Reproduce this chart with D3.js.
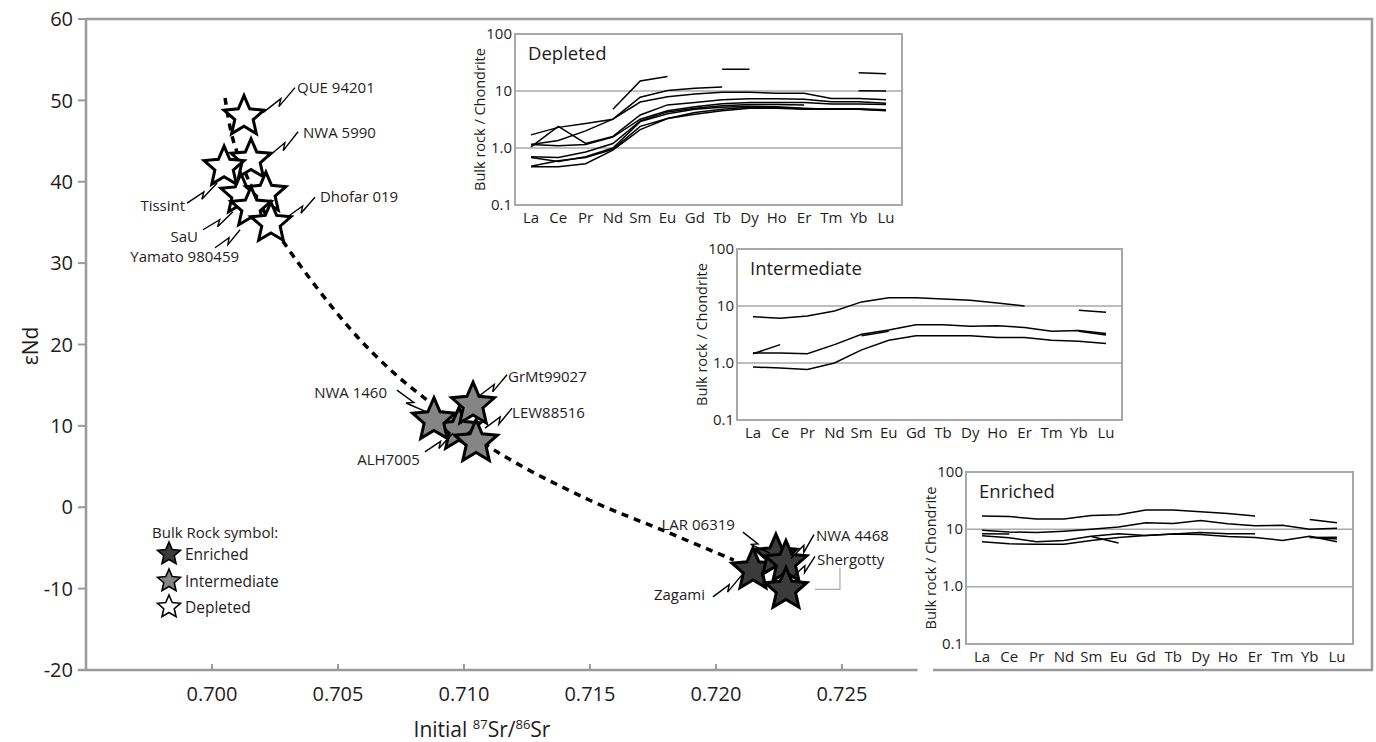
<!DOCTYPE html>
<html><head><meta charset="utf-8">
<script src="https://cdn.jsdelivr.net/npm/d3@7"></script>
<style>body{margin:0;background:#fff}svg{display:block;font-family:"Open Sans",sans-serif}</style>
</head><body><svg id="c" width="1376" height="742"></svg>
<script>
// ---------- data ----------
const yTicks = [60,50,40,30,20,10,0,-10,-20];
const xTicks = [0.700,0.705,0.710,0.715,0.720,0.725];
const xTickLabels = ["0.700","0.705","0.710","0.715","0.720","0.725"];

const depletedNames = ["QUE 94201","NWA 5990","Tissint","SaU","(unlabelled)","Yamato 980459","Dhofar 019"];
const depletedSr  = [0.70127,0.70155,0.70048,0.70115,0.70214,0.70155,0.70234];
const depletedNd  = [48.0,42.7,41.8,38.4,38.6,36.8,34.9];
const intermediateNames = ["ALH7005","NWA 1460","GrMt99027","LEW88516"];
const intermediateSr = [0.70980,0.70881,0.71036,0.71048];
const intermediateNd = [9.5,10.7,12.6,8.0];
const enrichedNames = ["Zagami","LAR 06319","NWA 4468","Shergotty"];
const enrichedSr = [0.72147,0.72238,0.72278,0.72278];
const enrichedNd = [-7.7,-6.0,-6.8,-10.1];

const mixSr = [0.70052,0.70087,0.70194,0.70306,0.70552,0.70722,0.70869,0.71119,0.71476,0.71810,0.72071];
const mixNd = [50.3,44.8,37.1,31.6,21.8,16.5,12.8,7.05,1.2,-3.1,-6.5];

const elements = ["La","Ce","Pr","Nd","Sm","Eu","Gd","Tb","Dy","Ho","Er","Tm","Yb","Lu"];
const reeTicks = [100,10,1,0.1];
const reeTickLabels = ["100","10","1.0","0.1"];
const N = null;
const depletedREE = [
  [N,N,N,4.8,15,18,N,24,24,N,N,N,21,20],
  [1.7,2.3,2.7,3.2,7.8,10.2,11.2,11.8,N,N,N,N,10.1,10.0],
  [1.05,2.4,1.2,1.6,3.8,5.7,6.3,7.0,7.3,7.3,7.2,6.5,6.5,6.1],
  [1.15,1.35,2.0,3.2,6.4,7.9,8.9,9.5,9.5,9.1,9.1,7.4,7.4,7.0],
  [1.15,1.1,1.15,1.55,3.2,4.5,5.3,6.0,6.3,6.3,6.3,5.9,5.9,5.8],
  [0.7,0.68,0.85,1.2,3.0,4.3,5.0,5.5,5.8,5.8,5.7,N,N,N],
  [0.68,0.58,0.7,1.0,2.9,4.0,4.8,5.2,5.4,5.3,5.0,4.8,4.8,4.6],
  [0.48,0.6,0.68,0.95,2.4,3.3,4.2,4.8,5.2,5.1,4.9,4.9,4.9,4.7],
  [0.47,0.47,0.53,0.92,2.1,3.3,3.9,4.5,5.0,5.0,4.8,4.8,4.8,4.5]
];
const intermediateREE = [
  [6.5,6.1,6.7,8.2,11.8,14,14,13.3,12.6,11.3,10,N,8.4,7.8],
  [1.5,1.5,1.45,2.1,3.2,3.8,4.7,4.7,4.4,4.5,4.2,3.6,3.7,3.3],
  [1.45,2.1,N,N,3.0,3.6,N,N,N,N,N,N,3.6,3.1],
  [0.85,0.82,0.77,1.0,1.7,2.5,3.0,3.0,3.0,2.8,2.8,2.5,2.4,2.2]
];
const enrichedREE = [
  [17,16.7,15.1,15.1,17.5,18,21.7,21.7,20.3,18.8,17,N,14.9,13],
  [9.6,9.0,8.8,9.3,10,11,13,12.7,14.3,12.5,11.5,11.8,10,10.4],
  [8.4,8.3,N,N,N,N,N,N,N,N,N,N,N,N],
  [7.7,7.1,6.1,6.4,7.6,8.4,7.8,8.3,8.8,8.4,8.4,N,7.3,6.8],
  [6.1,5.6,5.5,5.5,6.4,7.2,7.8,8.3,8.1,7.5,7.2,6.4,7.6,6.1],
  [N,N,N,N,7.5,5.8,N,N,N,N,N,N,7.2,7.3]
];

// ---------- layout ----------
const svg = d3.select("#c");
const GRAY = "#9a9a9a";
const INK = "#1f1c1d";
const x = d3.scaleLinear().domain([0.695,0.728]).range([86,917.5]);
const y = d3.scaleLinear().domain([-20,60]).range([670,19]);

// frame
svg.append("path").attr("d","M86,19H1372V670H933").attr("fill","none").attr("stroke",GRAY).attr("stroke-width",2.5);
// axes
svg.append("line").attr("x1",86).attr("x2",86).attr("y1",19).attr("y2",670).attr("stroke",GRAY).attr("stroke-width",2.5);
svg.append("line").attr("x1",78).attr("x2",917.5).attr("y1",670).attr("y2",670).attr("stroke",GRAY).attr("stroke-width",2.5);
svg.selectAll(".yt").data(yTicks).join("line").attr("x1",78).attr("x2",86)
  .attr("y1",d=>y(d)).attr("y2",d=>y(d)).attr("stroke",GRAY).attr("stroke-width",2);
svg.selectAll(".ytl").data(yTicks).join("text").attr("x",73).attr("y",d=>y(d)).attr("dy","0.36em")
  .attr("text-anchor","end").attr("font-size",20).attr("fill",INK).text(d=>d);
svg.selectAll(".xt").data(xTicks).join("line").attr("x1",d=>x(d)).attr("x2",d=>x(d))
  .attr("y1",670).attr("y2",664).attr("stroke",GRAY).attr("stroke-width",2);
svg.selectAll(".xtl").data(xTicks).join("text").attr("x",d=>x(d)).attr("y",694).attr("dy","0.36em")
  .attr("text-anchor","middle").attr("font-size",20).attr("fill",INK).text((d,i)=>xTickLabels[i]);
svg.append("text").attr("transform","translate(38,346) rotate(-90)").attr("text-anchor","middle")
  .attr("font-size",21).attr("fill",INK).text("εNd");
const xt = svg.append("text").attr("x",482).attr("y",737).attr("text-anchor","middle").attr("font-size",21).attr("fill",INK);
xt.append("tspan").text("Initial ");
xt.append("tspan").attr("font-size",13).attr("dy",-8).text("87");
xt.append("tspan").attr("dy",8).text("Sr/");
xt.append("tspan").attr("font-size",13).attr("dy",-8).text("86");
xt.append("tspan").attr("dy",8).text("Sr");

// mixing curve
const mix = mixSr.map((s,i)=>[s,mixNd[i]]);
svg.append("path").datum(mix).attr("d",d3.line().x(d=>x(d[0])).y(d=>y(d[1])).curve(d3.curveCatmullRom))
  .attr("fill","none").attr("stroke","#000").attr("stroke-width",3.5).attr("stroke-dasharray","7,6");

// star generator
function starPts(R){const r=R*0.46,p=[];for(let i=0;i<10;i++){p.push([i*Math.PI/5,i%2?r:R]);}return p;}
const radial = d3.lineRadial().angle(d=>d[0]).radius(d=>d[1]).curve(d3.curveLinearClosed);
function drawStars(names,sr,nd,fill,R){
  const g = svg.append("g");
  names.forEach((n,i)=>{
    g.append("path").attr("d",radial(starPts(R))).attr("transform",`translate(${x(sr[i])},${y(nd[i])})`)
     .attr("fill",fill).attr("stroke","#000").attr("stroke-width",3).attr("stroke-linejoin","miter");
  });
}
drawStars(depletedNames,depletedSr,depletedNd,"#fff",21);
drawStars(intermediateNames,intermediateSr,intermediateNd,"#858585",22.5);
drawStars(enrichedNames,enrichedSr,enrichedNd,"#3b3b3b",22);

// labels with zigzag leaders (offsets from star centre)
const labelLayout = [
  {n:"QUE 94201",s:[19,-4],e:[51,-29],t:[53,-29],a:"start"},
  {n:"NWA 5990",s:[17,-3],e:[47,-28],t:[52,-27],a:"start"},
  {n:"Tissint",s:[-37,36],e:[-7,16],t:[-39,38],a:"end"},
  {n:"SaU",s:[-38,35],e:[-8,17],t:[-43,42],a:"end"},
  {n:"Yamato 980459",s:[-36,40],e:[-11,22],t:[-12,49],a:"end"},
  {n:"Dhofar 019",s:[16,-6],e:[44,-26],t:[49,-27],a:"start"},
  {n:"NWA 1460",s:[-37,-30],e:[-7,-8],t:[-47,-28],a:"end"},
  {n:"GrMt99027",s:[5,-8],e:[34,-30],t:[35,-28],a:"start"},
  {n:"LEW88516",s:[9,-14],e:[36,-34],t:[36,-30],a:"start"},
  {n:"ALH7005",s:[-34,22],e:[-6,3],t:[-39,30],a:"end"},
  {n:"Zagami",s:[-40,27],e:[-11,5],t:[-48,25],a:"end"},
  {n:"LAR 06319",s:[-33,-24],e:[-6,-3],t:[-41,-31],a:"end"},
  {n:"NWA 4468",s:[5,-4],e:[28,-28],t:[30,-27],a:"start"},
  {n:"Shergotty",s:[6,-12],e:[29,-33],t:[31,-30],a:"start"}
];
const allNames = depletedNames.concat(intermediateNames,enrichedNames);
const allSr = depletedSr.concat(intermediateSr,enrichedSr);
const allNd = depletedNd.concat(intermediateNd,enrichedNd);
function zig(s,e){
  const dx=e[0]-s[0],dy=e[1]-s[1],L=Math.hypot(dx,dy),ux=dx/L,uy=dy/L,nx=-uy,ny=ux;
  const a=[s[0]+ux*L*0.56,s[1]+uy*L*0.56];
  const b=[s[0]+ux*L*0.40+nx*5,s[1]+uy*L*0.40+ny*5];
  return `M${s}L${a}L${b}L${e}`;
}
labelLayout.forEach(l=>{
  const i = allNames.indexOf(l.n);
  const cx=x(allSr[i]), cy=y(allNd[i]);
  svg.append("path").attr("d",zig([cx+l.s[0],cy+l.s[1]],[cx+l.e[0],cy+l.e[1]]))
    .attr("fill","none").attr("stroke","#000").attr("stroke-width",1.4);
  svg.append("text").attr("x",cx+l.t[0]).attr("y",cy+l.t[1]).attr("dy","0.36em").attr("text-anchor",l.a)
    .attr("font-size",15).attr("fill",INK).text(l.n);
});
// small gray bracket by Shergotty
{const i=allNames.indexOf("Shergotty");const cx=x(allSr[i]),cy=y(allNd[i]);
 svg.append("path").attr("d",`M${cx+29},${cy}H${cx+54}V${cy-22}`).attr("fill","none").attr("stroke","#aaa").attr("stroke-width",1.2);}

// legend
svg.append("text").attr("x",152).attr("y",533).attr("dy","0.36em").attr("font-size",15).attr("fill",INK).text("Bulk Rock symbol:");
const legendItems = [["Enriched","#3b3b3b"],["Intermediate","#858585"],["Depleted","#fff"]];
legendItems.forEach((d,i)=>{
  const cy = [554,581,607][i];
  svg.append("path").attr("d",radial(starPts(12))).attr("transform",`translate(169,${cy})`)
    .attr("fill",d[1]).attr("stroke","#000").attr("stroke-width",1.6);
  svg.append("text").attr("x",185).attr("y",cy).attr("dy","0.36em").attr("font-size",15.5).attr("fill",INK).text(d[0]);
});

// REE insets
function inset(box,title,data){
  const g = svg.append("g");
  const ex = d3.scalePoint().domain(elements).range([box.x+16,box.x+box.w-16]);
  const ey = d3.scaleLog().domain([0.1,100]).range([box.y+box.h,box.y]);
  g.append("rect").attr("x",box.x).attr("y",box.y).attr("width",box.w).attr("height",box.h)
    .attr("fill","#fff").attr("stroke","#a8a8a8").attr("stroke-width",2);
  g.selectAll(".gl").data([10,1]).join("line").attr("x1",box.x).attr("x2",box.x+box.w)
    .attr("y1",d=>ey(d)).attr("y2",d=>ey(d)).attr("stroke","#a8a8a8").attr("stroke-width",1.5);
  g.selectAll(".tl").data(reeTicks).join("text").attr("x",box.x-3).attr("y",d=>ey(d)).attr("dy","0.3em")
    .attr("text-anchor","end").attr("font-size",15).attr("fill",INK).text((d,i)=>reeTickLabels[i]);
  g.selectAll(".el").data(elements).join("text").attr("x",d=>ex(d)).attr("y",box.y+box.h+13).attr("dy","0.36em")
    .attr("text-anchor","middle").attr("font-size",15).attr("fill",INK).text(d=>d);
  g.append("text").attr("transform",`translate(${box.x-35},${box.y+box.h/2}) rotate(-90)`).attr("dy","0.36em")
    .attr("text-anchor","middle").attr("font-size",14.5).attr("fill",INK).text("Bulk rock / Chondrite");
  g.append("text").attr("x",box.x+13).attr("y",box.y+19).attr("dy","0.36em").attr("font-size",18.5).attr("fill",INK).text(title);
  const line = d3.line().defined(d=>d!=null).x((d,i)=>ex(elements[i])).y(d=>ey(d));
  g.selectAll(".ln").data(data).join("path").attr("d",line).attr("fill","none").attr("stroke","#000").attr("stroke-width",1.5);
}
inset({x:515,y:34,w:387,h:171},"Depleted",depletedREE);
inset({x:737,y:249,w:385,h:171},"Intermediate",intermediateREE);
inset({x:966,y:472,w:387,h:172},"Enriched",enrichedREE);
</script></body></html>
